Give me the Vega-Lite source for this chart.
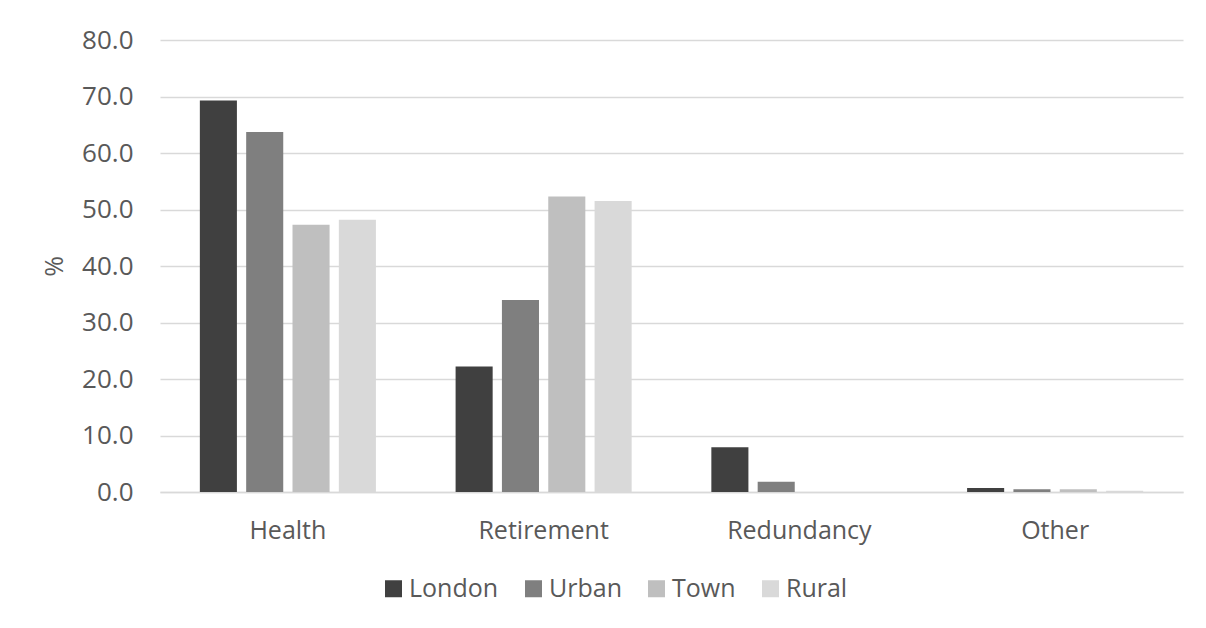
{
  "$schema": "https://vega.github.io/schema/vega-lite/v6.json",
  "width": 1023,
  "height": 452,
  "autosize": {"type": "none"},
  "padding": {"left": 160, "top": 40, "right": 23, "bottom": 136},
  "background": "white",
  "config": {
    "view": {"stroke": null},
    "font": "Open Sans",
    "axis": {"labelColor": "#595959", "titleColor": "#595959", "labelFont": "Open Sans", "titleFont": "Open Sans"},
    "legend": {"labelFont": "Open Sans", "labelColor": "#595959"}
  },
  "data": {
    "values": [
      {"category": "Health", "region": "London", "value": 69.3},
      {"category": "Health", "region": "Urban", "value": 63.7},
      {"category": "Health", "region": "Town", "value": 47.3},
      {"category": "Health", "region": "Rural", "value": 48.2},
      {"category": "Retirement", "region": "London", "value": 22.2},
      {"category": "Retirement", "region": "Urban", "value": 34.0},
      {"category": "Retirement", "region": "Town", "value": 52.3},
      {"category": "Retirement", "region": "Rural", "value": 51.5},
      {"category": "Redundancy", "region": "London", "value": 7.9},
      {"category": "Redundancy", "region": "Urban", "value": 1.8},
      {"category": "Redundancy", "region": "Town", "value": 0.0},
      {"category": "Redundancy", "region": "Rural", "value": 0.0},
      {"category": "Other", "region": "London", "value": 0.7},
      {"category": "Other", "region": "Urban", "value": 0.5},
      {"category": "Other", "region": "Town", "value": 0.5},
      {"category": "Other", "region": "Rural", "value": 0.2}
    ]
  },
  "mark": {"type": "bar"},
  "encoding": {
    "x": {
      "field": "category",
      "type": "nominal",
      "sort": ["Health", "Retirement", "Redundancy", "Other"],
      "scale": {"paddingInner": 0, "paddingOuter": 0},
      "axis": {
        "title": null,
        "labelAngle": 0,
        "labelFontSize": 25,
        "labelPadding": 26,
        "ticks": false,
        "domain": true,
        "domainColor": "#d9d9d9",
        "domainWidth": 1.5,
        "grid": false
      }
    },
    "xOffset": {
      "field": "region",
      "type": "nominal",
      "sort": ["London", "Urban", "Town", "Rural"],
      "scale": {"paddingInner": 0.2, "paddingOuter": 0.86}
    },
    "y": {
      "field": "value",
      "type": "quantitative",
      "scale": {"domain": [0, 80], "nice": false},
      "axis": {
        "title": "%",
        "titleFontSize": 25,
        "titleFontWeight": "normal",
        "titlePadding": 14,
        "values": [0, 10, 20, 30, 40, 50, 60, 70, 80],
        "format": ".1f",
        "labelFontSize": 26,
        "labelPadding": 27,
        "ticks": false,
        "domain": false,
        "gridColor": "#d9d9d9",
        "gridWidth": 1.5
      }
    },
    "color": {
      "field": "region",
      "type": "nominal",
      "sort": ["London", "Urban", "Town", "Rural"],
      "scale": {"domain": ["London", "Urban", "Town", "Rural"], "range": ["#404040", "#7f7f7f", "#bfbfbf", "#d9d9d9"]},
      "legend": {
        "title": null,
        "orient": "none",
        "direction": "horizontal",
        "legendX": 221,
        "legendY": 536,
        "symbolType": "square",
        "symbolSize": 289,
        "symbolStrokeWidth": 0,
        "labelFontSize": 25,
        "labelOffset": 3,
        "columnPadding": 22
      }
    }
  }
}
